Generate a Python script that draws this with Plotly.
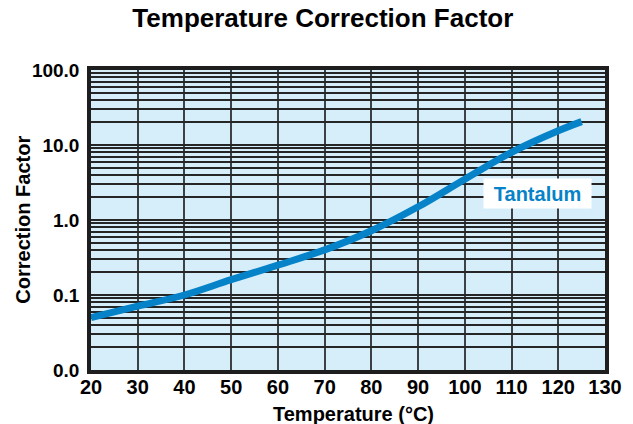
import plotly.graph_objects as go

temps = [20, 30, 40, 50, 60, 70, 80, 90, 100, 110, 120, 125]
factor = [0.050, 0.071, 0.10, 0.16, 0.25, 0.40, 0.72, 1.5, 3.5, 8.0, 15.5, 20.5]

x_ticks = [20, 30, 40, 50, 60, 70, 80, 90, 100, 110, 120, 130]
decades = [0.01, 0.1, 1, 10, 100]
decade_labels = ["0.0", "0.1", "1.0", "10.0", "100.0"]

yvals, ytext = [], []
for i, d in enumerate(decades):
    yvals.append(d)
    ytext.append(decade_labels[i])
    if d < 100:
        for m in range(2, 10):
            yvals.append(d * m)
            ytext.append("")

FONT = "Liberation Sans, Arial, Helvetica"
BLUE = "#0683c8"

fig = go.Figure()
fig.add_trace(go.Scatter(x=temps, y=factor, mode="lines",
                         line=dict(color=BLUE, width=7, shape="spline"), showlegend=False))

fig.add_annotation(x=115.55, y=0.352, xref="x", yref="y", text="<b>Tantalum</b>", showarrow=False,
                   font=dict(family=FONT, size=20, color=BLUE),
                   bgcolor="white", width=103, height=25, borderpad=2)

fig.add_annotation(x=0.51, y=-0.148, xref="paper", yref="paper", text="<b>Temperature (°C)</b>",
                   showarrow=False, font=dict(family=FONT, size=20, color="black"),
                   xanchor="center", yanchor="middle")
fig.add_annotation(x=-0.133, y=0.5, xref="paper", yref="paper", text="<b>Correction Factor</b>",
                   showarrow=False, font=dict(family=FONT, size=20, color="black"),
                   textangle=-90, xanchor="center", yanchor="middle")

fig.update_layout(
    width=633, height=424,
    margin=dict(l=91, r=28, t=70, b=54, autoexpand=False),
    paper_bgcolor="white", plot_bgcolor="#d6eefa",
    title=dict(text="<b>Temperature Correction Factor</b>", x=0.51, xanchor="center", y=0.957, yanchor="middle",
               font=dict(family=FONT, size=26, color="black"), automargin=False),
    font=dict(family=FONT, color="black"),
)
fig.update_xaxes(range=[20, 130], tickvals=x_ticks, ticktext=[f"<b>{v}</b>" for v in x_ticks],
                 showgrid=True, gridcolor="#3c4145", gridwidth=2,
                 showline=True, linecolor="#1e1e1e", linewidth=3.5, mirror=True, zeroline=False,
                 ticks="", tickfont=dict(size=20), automargin=False, ticklabelstandoff=-4)
fig.update_yaxes(type="log", range=[-2, 2], tickvals=yvals, ticktext=[f"<b>{t}</b>" if t else "" for t in ytext],
                 showgrid=True, gridcolor="#262626", gridwidth=1.5,
                 showline=True, linecolor="#1e1e1e", linewidth=3.5, mirror=True, zeroline=False,
                 ticks="", tickfont=dict(size=19), automargin=False, ticklabelstandoff=4)

fig.write_html("out.html", config={"displayModeBar": False},
               post_script="document.body.style.margin='0';document.body.style.overflow='hidden';")
